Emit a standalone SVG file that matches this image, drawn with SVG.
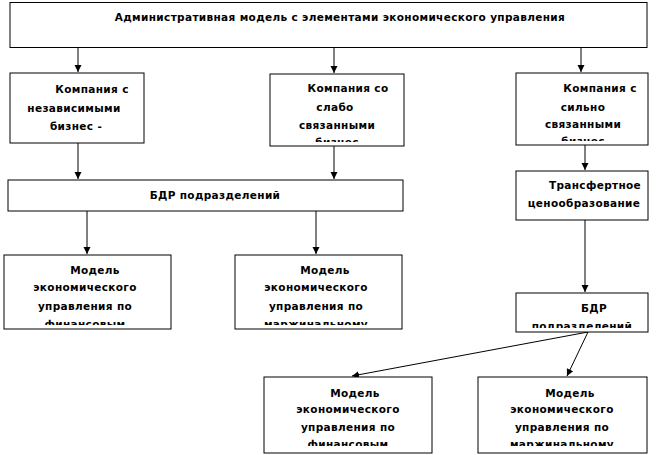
<svg xmlns="http://www.w3.org/2000/svg" width="656" height="455" viewBox="0 0 656 455">
<style>
.box{fill:#fff;stroke:#000;stroke-width:1}
.t{font-family:"DejaVu Sans","Liberation Sans",sans-serif;font-weight:bold;font-size:10.5px;letter-spacing:0.35px;fill:#000;text-anchor:middle}
.c{stroke:#000;stroke-width:1;fill:none;marker-end:url(#ah)}
</style>
<defs>
<marker id="ah" markerWidth="8" markerHeight="8" refX="7" refY="4" orient="auto" markerUnits="userSpaceOnUse">
<path d="M0,0.5 L7,4 L0,7.5 Z" fill="#000"/>
</marker>
<clipPath id="c1"><rect x="10" y="73" width="134" height="70"/></clipPath>
<clipPath id="c2"><rect x="270" y="74" width="134" height="68"/></clipPath>
<clipPath id="c3"><rect x="516" y="73" width="132" height="68"/></clipPath>
<clipPath id="c5"><rect x="516" y="293" width="132" height="35"/></clipPath>
<clipPath id="c6"><rect x="4" y="255" width="167" height="70"/></clipPath>
<clipPath id="c7"><rect x="235" y="255" width="167" height="70"/></clipPath>
<clipPath id="c8"><rect x="264" y="377" width="168" height="69"/></clipPath>
<clipPath id="c9"><rect x="478" y="377" width="169" height="69"/></clipPath>
</defs>
<g id="connectors">
<line class="c" x1="78" y1="47.5" x2="78" y2="72"/>
<line class="c" x1="334" y1="47.5" x2="334" y2="73"/>
<line class="c" x1="581" y1="47.5" x2="581" y2="72"/>
<line class="c" x1="78" y1="143" x2="78" y2="179"/>
<line class="c" x1="334" y1="146" x2="334" y2="179"/>
<line class="c" x1="585" y1="145" x2="585" y2="170"/>
<line class="c" x1="87" y1="211" x2="87" y2="254"/>
<line class="c" x1="316" y1="211" x2="316" y2="254"/>
<line class="c" x1="585" y1="220" x2="585" y2="292"/>
<line class="c" x1="588" y1="332" x2="352" y2="376"/>
<line class="c" x1="588" y1="332" x2="567" y2="376"/>
</g>
<g id="n-top">
<rect class="box" x="10" y="2.5" width="637" height="45"/>
<text class="t" x="340" y="21">Административная модель с элементами экономического управления</text>
</g>
<g id="n-comp1">
<rect class="box" x="10" y="73" width="134" height="70"/>
<g clip-path="url(#c1)">
<text class="t" x="92" y="93">Компания с</text>
<text class="t" x="74" y="112">независимыми</text>
<text class="t" x="76" y="130">бизнес -</text>
</g>
</g>
<g id="n-comp2">
<rect class="box" x="270" y="74" width="134" height="72"/>
<g clip-path="url(#c2)">
<text class="t" x="348" y="92">Компания со</text>
<text class="t" x="335" y="111">слабо</text>
<text class="t" x="337" y="129">связанными</text>
<text class="t" x="337" y="146">бизнес</text>
</g>
</g>
<g id="n-comp3">
<rect class="box" x="516" y="73" width="132" height="72"/>
<g clip-path="url(#c3)">
<text class="t" x="600" y="92">Компания с</text>
<text class="t" x="583" y="111">сильно</text>
<text class="t" x="583" y="128">связанными</text>
<text class="t" x="583" y="145">бизнес</text>
</g>
</g>
<g id="n-bdr1">
<rect class="box" x="8" y="180" width="395" height="31"/>
<text class="t" x="215" y="199">БДР подразделений</text>
</g>
<g id="n-transfer">
<rect class="box" x="516" y="171" width="132" height="49"/>
<text class="t" x="595" y="189">Трансфертное</text>
<text class="t" x="584" y="207">ценообразование</text>
</g>
<g id="n-model1">
<rect class="box" x="4" y="255" width="167" height="74"/>
<g clip-path="url(#c6)">
<text class="t" x="95" y="274">Модель</text>
<text class="t" x="85" y="291">экономического</text>
<text class="t" x="85" y="310">управления по</text>
<text class="t" x="85" y="328">финансовым</text>
</g>
</g>
<g id="n-model2">
<rect class="box" x="235" y="255" width="167" height="74"/>
<g clip-path="url(#c7)">
<text class="t" x="325" y="274">Модель</text>
<text class="t" x="316" y="291">экономического</text>
<text class="t" x="316" y="310">управления по</text>
<text class="t" x="316" y="328">маржинальному</text>
</g>
</g>
<g id="n-bdr2">
<rect class="box" x="516" y="293" width="132" height="39"/>
<g clip-path="url(#c5)">
<text class="t" x="594" y="312">БДР</text>
<text class="t" x="582" y="330">подразделений</text>
</g>
</g>
<g id="n-model3">
<rect class="box" x="264" y="377" width="168" height="76"/>
<g clip-path="url(#c8)">
<text class="t" x="355" y="397">Модель</text>
<text class="t" x="348" y="413">экономического</text>
<text class="t" x="348" y="431">управления по</text>
<text class="t" x="348" y="448">финансовым</text>
</g>
</g>
<g id="n-model4">
<rect class="box" x="478" y="377" width="169" height="76"/>
<g clip-path="url(#c9)">
<text class="t" x="570" y="397">Модель</text>
<text class="t" x="562" y="413">экономического</text>
<text class="t" x="562" y="431">управления по</text>
<text class="t" x="562" y="448">маржинальному</text>
</g>
</g>
</svg>
